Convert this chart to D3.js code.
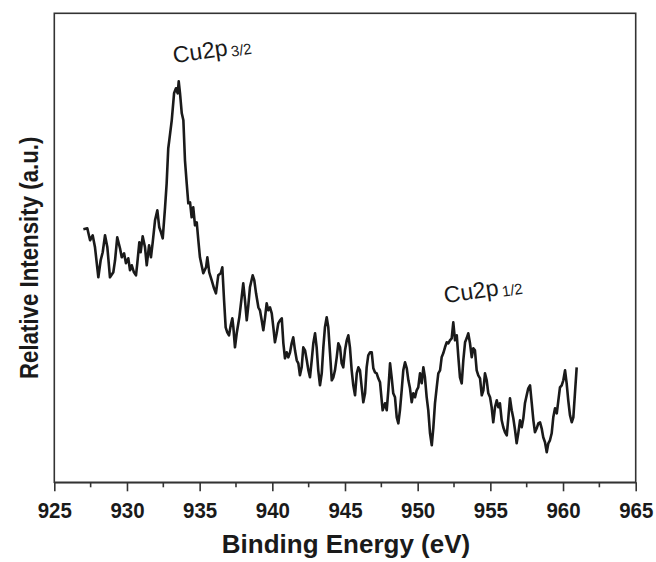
<!DOCTYPE html>
<html><head><meta charset="utf-8">
<script src="https://cdn.jsdelivr.net/npm/d3@7"></script>
<style>html,body{margin:0;padding:0;background:#fff;}svg{display:block;}</style>
</head><body>
<svg id="chart" width="656" height="562"></svg>
<script>
// Binding energy (eV)
const energy = [
927.00,927.27,927.46,927.64,927.80,928.03,928.19,928.33,928.49,928.65,928.83,929.06,929.18,929.33,929.52,929.64,929.80,929.93,930.09,930.21,930.33,930.48,930.62,930.71,930.85,930.94,931.08,931.24,931.36,931.52,931.65,931.77,931.93,932.09,932.22,932.34,932.46,932.62,932.73,932.84,932.91,933.08,933.24,933.37,933.49,933.56,933.65,933.77,933.88,933.99,934.11,934.22,934.34,934.45,934.56,934.68,934.80,934.91,935.02,
935.25,935.44,935.53,935.66,935.83,935.99,936.12,936.28,936.45,936.56,936.68,936.79,936.90,937.02,937.14,937.25,937.32,937.43,937.55,937.73,937.89,938.00,938.12,938.24,938.35,938.46,938.65,938.76,938.88,939.04,939.15,939.27,939.38,939.50,939.61,939.72,939.84,939.96,940.07,940.18,940.30,940.41,940.53,940.65,940.76,940.87,940.99,941.10,941.22,941.33,941.44,941.56,941.68,941.79,941.90,942.02,942.13,942.25,942.37,942.48,942.59,942.71,942.82,942.94,943.05,943.16,943.28,943.40,943.51,943.62,943.74,943.85,943.97,944.09,944.20,944.31,944.43,944.54,944.66,944.77,944.88,945.00,945.12,945.23,945.34,945.46,945.57,945.69,945.81,945.92,946.03,946.15,946.26,946.38,946.49,946.60,946.72,946.84,946.95,947.06,947.18,947.29,947.41,
947.59,947.75,947.87,947.98,948.10,948.21,948.32,948.44,948.56,948.67,948.78,948.90,949.01,949.13,949.25,949.36,949.47,949.59,949.70,949.82,949.93,950.04,950.16,950.28,950.39,950.50,950.62,950.73,950.85,950.97,951.08,951.19,951.31,951.42,951.54,951.65,951.76,951.88,952.00,952.11,952.22,952.34,952.45,952.57,952.69,952.80,952.91,953.03,953.14,953.26,953.37,953.48,953.60,953.72,953.83,953.94,954.06,954.17,954.29,954.41,954.52,954.63,954.75,954.86,954.98,955.09,955.20,955.32,955.44,955.55,955.66,955.78,955.89,956.01,956.13,956.24,956.35,956.47,956.58,956.70,956.81,956.92,957.04,957.16,957.27,957.38,957.50,957.61,957.73,957.85,957.96,958.07,958.19,958.30,958.42,958.53,958.64,958.76,958.88,958.99,959.10,959.22,959.33,959.45,959.57,959.68,959.79,959.91,960.02,960.14,960.25,960.36,960.48,960.60,960.71,960.82,960.94
];
// Relative intensity (a.u.)
const intensity = [
253,254,242,247,235,205,222,230,247,235,205,210,222,245,234,225,229,219,224,212,217,210,207,219,240,230,246,235,217,237,225,240,262,272,255,250,244,275,299,334,342,362,389,394,389,401,389,369,362,322,299,279,280,265,275,257,260,242,225,
209,215,225,210,202,194,189,207,209,215,182,155,150,147,157,164,155,135,149,165,185,199,182,162,177,195,207,202,189,175,172,162,152,165,179,172,175,169,155,140,149,159,162,164,139,124,130,125,130,139,145,132,122,119,107,115,135,132,122,112,105,122,139,149,135,112,97,109,135,155,165,155,129,102,105,112,125,139,135,119,115,132,142,147,135,112,97,87,109,115,112,95,80,89,115,127,130,130,114,110,109,104,100,
72,79,72,92,119,105,89,85,65,59,72,92,112,120,114,102,94,80,89,85,92,95,109,99,115,105,85,72,49,37,55,79,95,109,112,125,129,135,140,139,142,144,160,142,147,125,105,99,122,140,144,149,139,125,134,132,112,107,104,87,92,109,102,89,85,75,60,75,82,75,79,62,55,50,47,65,84,72,64,52,39,49,62,55,64,79,87,94,97,79,62,50,54,59,60,54,45,40,30,39,42,49,65,74,69,82,95,97,102,112,99,82,67,60,65,89,115
];
const xTicks = [925,930,935,940,945,950,955,960,965];
const xMinorTicks = [927.5,932.5,937.5,942.5,947.5,952.5,957.5,962.5];
const xTitle = "Binding Energy (eV)";
const yTitle = "Relative Intensity (a.u.)";
const peakNames = ["Cu2p", "Cu2p"];
const peakSubs = ["3/2", "1/2"];
const peakE = [933.24, 951.88];
const peakI = [419, 179];

const svg = d3.select("#chart");
const mLeft = 54.3, mRight = 635.7, mTop = 13.3, mBottom = 482.3;
const x = d3.scaleLinear().domain([925, 965]).range([mLeft, mRight]);
const y = d3.scaleLinear().domain([0, 469]).range([mBottom, mTop]);
const ink = "#1a1a1a";
const font = "'Liberation Sans', Arial, Helvetica, sans-serif";

// frame
svg.append("rect").attr("x", mLeft).attr("y", mTop).attr("width", mRight-mLeft).attr("height", mBottom-mTop)
  .attr("fill", "none").attr("stroke", "#333").attr("stroke-width", 1.6);

// bottom axis
const ax = svg.append("g").attr("transform", `translate(0,${mBottom})`)
  .call(d3.axisBottom(x).tickValues(xTicks).tickSize(9).tickSizeOuter(0).tickPadding(11).tickFormat(d3.format("d")));
ax.select(".domain").attr("stroke", "#333").attr("stroke-width", 1.6);
ax.selectAll(".tick line").attr("stroke", "#333").attr("stroke-width", 1.6);
ax.selectAll(".tick text").attr("fill", ink).attr("font-family", font).attr("font-weight", "bold").attr("font-size", 22)
  .attr("transform", "scale(0.93,1)").attr("x", function() { return 0; });
// keep condensed labels centred on their ticks
ax.selectAll(".tick").each(function(d) {
  d3.select(this).select("text").attr("transform", null)
    .attr("textLength", null).style("transform", "scaleX(0.93)").style("transform-box", "fill-box").style("transform-origin", "center");
});
svg.append("g").selectAll("line").data(xMinorTicks).join("line")
  .attr("x1", d => x(d)).attr("x2", d => x(d)).attr("y1", mBottom).attr("y2", mBottom + 5)
  .attr("stroke", "#333").attr("stroke-width", 1.6);

// titles
svg.append("text").attr("x", (mLeft+mRight)/2 + 1).attr("y", 553).attr("text-anchor", "middle")
  .attr("font-family", font).attr("font-weight", "bold").attr("font-size", 26).attr("fill", ink).text(xTitle);
svg.append("text").attr("transform", `translate(38,${(mTop+mBottom)/2 + 10}) rotate(-90) scale(0.84,1)`).attr("text-anchor", "middle")
  .attr("font-family", font).attr("font-weight", "bold").attr("font-size", 26.5).attr("fill", ink).text(yTitle);

// spectrum
const pts = energy.map((e, i) => [e, intensity[i]]);
svg.append("path").datum(pts)
  .attr("fill", "none").attr("stroke", ink).attr("stroke-width", 2.6).attr("stroke-linejoin", "round")
  .attr("d", d3.line().x(d => x(d[0])).y(d => y(d[1])));

// peak labels
peakNames.forEach((n, i) => {
  const t = svg.append("text").attr("transform", `translate(${x(peakE[i])},${y(peakI[i])}) rotate(-8.5)`)
    .attr("font-family", font).attr("font-size", 23).attr("fill", ink);
  t.append("tspan").text(n);
  t.append("tspan").attr("dx", 3).attr("dy", 2).attr("font-size", 15).text(peakSubs[i]);
});
</script>
</body></html>
